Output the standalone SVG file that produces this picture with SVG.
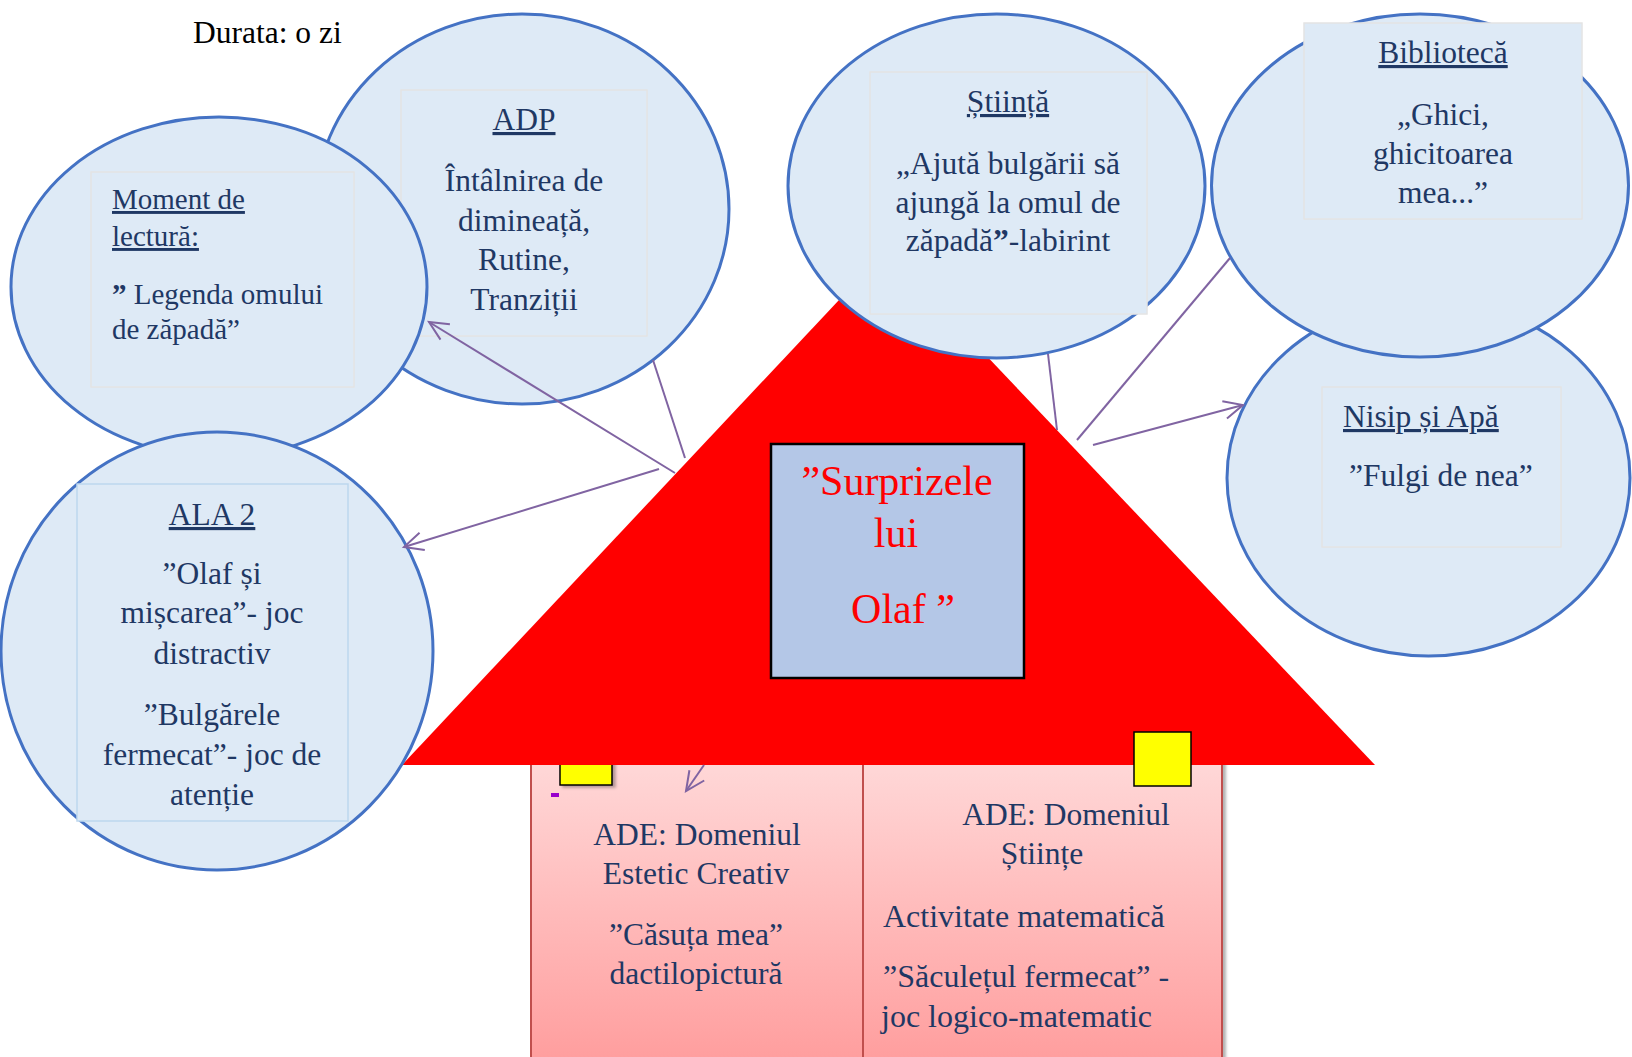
<svg xmlns="http://www.w3.org/2000/svg" width="1632" height="1057" viewBox="0 0 1632 1057">
<defs>
<style>
.el{fill:#DEEAF6;stroke:#4472C4;stroke-width:3}
.bx{fill:#DEEAF6;stroke:#E4E4E4;stroke-width:1.5}
.t{font-family:"Liberation Serif","Times New Roman",serif;font-size:31.5px;fill:#1F3864}
.c{text-anchor:middle}
.u{text-decoration:underline}
.cn{fill:none;stroke:#8064A2;stroke-width:2}
.ar{marker-end:url(#arr)}
.wall{fill:url(#wg);stroke:#C0504D;stroke-width:2}
.yel{fill:#FFFF00;stroke:#000;stroke-width:1.5}
.ttl{font-family:"Liberation Serif","Times New Roman",serif;font-size:42px;fill:#FF0000;text-anchor:middle}
</style>
<linearGradient id="wg" x1="0" y1="0" x2="0" y2="1">
<stop offset="0" stop-color="#FFDCDC"/>
<stop offset="1" stop-color="#FF9C9C"/>
</linearGradient>
<marker id="arr" markerUnits="userSpaceOnUse" markerWidth="40" markerHeight="40" viewBox="-30 -20 40 40" refX="0" refY="0" orient="auto" overflow="visible">
<path d="M-19,-9 L0,0 L-19,9" fill="none" stroke="#8064A2" stroke-width="2"/>
</marker>
<filter id="sh" x="-10%" y="-10%" width="130%" height="130%">
<feDropShadow dx="3" dy="2" stdDeviation="1.5" flood-color="#000" flood-opacity="0.3"/>
</filter>
</defs>
<rect width="1632" height="1057" fill="#fff"/>

<text class="t" x="193" y="43" style="fill:#000">Durata: o zi</text>

<g id="walls">
<rect class="wall" x="531" y="740" width="332" height="330" filter="url(#sh)"/>
<rect class="wall" x="863" y="740" width="359" height="330" filter="url(#sh)"/>
</g>
<g id="yellow-left">
<rect class="yel" x="560" y="750" width="52" height="35" filter="url(#sh)"/>
</g>
<rect id="mark" x="551" y="793" width="8" height="4" fill="#9900CC"/>

<g id="roof">
<polygon points="886,250 402,765 1375,765" fill="#FF0000"/>
</g>
<g id="yellow-right">
<rect class="yel" x="1134" y="732" width="57" height="54"/>
</g>

<g id="wall-left-text">
<text class="t c" x="697" y="845">ADE: Domeniul</text>
<text class="t c" x="696" y="884">Estetic Creativ</text>
<text class="t c" x="696" y="945">”Căsuța mea”</text>
<text class="t c" x="696" y="984">dactilopictură</text>
</g>
<g id="wall-right-text">
<text class="t c" x="1066" y="825">ADE: Domeniul</text>
<text class="t c" x="1042" y="864">Științe</text>
<text class="t" x="883" y="927" style="font-size:32px">Activitate matematică</text>
<text class="t" x="883" y="987" style="font-size:32px">”Săculețul fermecat” -</text>
<text class="t" x="881" y="1027" style="font-size:32px">joc logico-matematic</text>
</g>

<g id="adp">
<ellipse class="el" cx="522" cy="209" rx="207" ry="195"/>
<rect class="bx" x="401" y="90" width="246" height="246"/>
<text class="t c u" x="524" y="130">ADP</text>
<text class="t c" x="524" y="191">Întâlnirea de</text>
<text class="t c" x="524" y="231">dimineață,</text>
<text class="t c" x="524" y="270">Rutine,</text>
<text class="t c" x="524" y="310">Tranziții</text>
</g>

<g id="moment">
<ellipse class="el" cx="219" cy="287" rx="208" ry="170"/>
<rect class="bx" x="91" y="172" width="263" height="215"/>
<text class="t u" x="112" y="209" style="font-size:29px">Moment de</text>
<text class="t u" x="112" y="246" style="font-size:29px">lectură:</text>
<text class="t" x="112" y="304" style="font-size:29px"><tspan font-weight="bold">”</tspan> Legenda omului</text>
<text class="t" x="112" y="339" style="font-size:29px">de zăpadă”</text>
</g>

<g id="ala2">
<ellipse class="el" cx="217" cy="651" rx="216" ry="219"/>
<rect class="bx" x="77" y="484" width="271" height="337" style="stroke:#BDD7EE"/>
<text class="t c u" x="212" y="525">ALA 2</text>
<text class="t c" x="212" y="584">”Olaf și</text>
<text class="t c" x="212" y="623">mișcarea”- joc</text>
<text class="t c" x="212" y="664">distractiv</text>
<text class="t c" x="212" y="725">”Bulgărele</text>
<text class="t c" x="212" y="765">fermecat”- joc de</text>
<text class="t c" x="212" y="805">atenție</text>
</g>

<g id="stiinta">
<ellipse class="el" cx="996.5" cy="186" rx="208.5" ry="172"/>
<rect class="bx" x="870" y="72" width="277" height="242"/>
<text class="t c u" x="1008" y="112">Știință</text>
<text class="t c" x="1008" y="174">„Ajută bulgării să</text>
<text class="t c" x="1008" y="213">ajungă la omul de</text>
<text class="t c" x="1008" y="251">zăpadă<tspan font-weight="bold">”</tspan>-labirint</text>
</g>

<g id="nisip">
<ellipse class="el" cx="1428.5" cy="478" rx="201.5" ry="178"/>
<rect class="bx" x="1322" y="387" width="239" height="160"/>
<text class="t u" x="1343" y="427">Nisip și Apă</text>
<text class="t" x="1349" y="486">”Fulgi de nea”</text>
</g>

<g id="biblioteca">
<ellipse class="el" cx="1420" cy="185.5" rx="208.5" ry="171.5"/>
<rect class="bx" x="1304" y="23" width="278" height="196"/>
<text class="t c u" x="1443" y="63">Bibliotecă</text>
<text class="t c" x="1443" y="125">„Ghici,</text>
<text class="t c" x="1443" y="164">ghicitoarea</text>
<text class="t c" x="1443" y="203">mea...”</text>
</g>

<g id="connectors">
<line class="cn" x1="653" y1="360" x2="685" y2="458"/>
<line class="cn ar" x1="675" y1="473" x2="429" y2="322"/>
<line class="cn ar" x1="659" y1="469" x2="404" y2="547"/>
<line class="cn" x1="1048" y1="354" x2="1057" y2="430"/>
<line class="cn" x1="1077" y1="440" x2="1230" y2="258"/>
<line class="cn ar" x1="1093" y1="445" x2="1243" y2="405"/>
<line class="cn ar" x1="704" y1="765" x2="686" y2="791"/>
</g>

<g id="title">
<rect x="771" y="444" width="253" height="234" fill="#B4C7E7" stroke="#000" stroke-width="2.5"/>
<text class="ttl" x="897" y="495">”Surprizele</text>
<text class="ttl" x="896" y="547">lui</text>
<text class="ttl" x="903" y="623">Olaf ”</text>
</g>
</svg>
